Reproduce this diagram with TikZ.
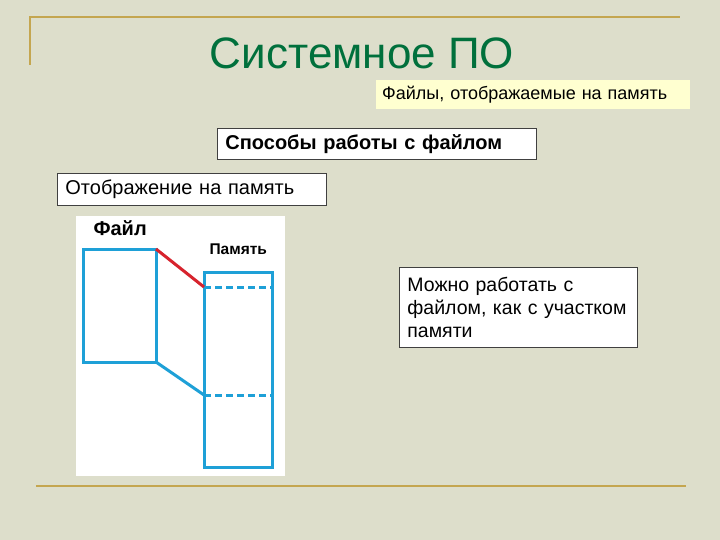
\documentclass[tikz,border=0pt]{standalone}
\usepackage{fontspec}
\setmainfont{Liberation Sans}
\usepackage{tikz}
\usetikzlibrary{positioning}
\definecolor{slidebg}{RGB}{221,222,203}
\definecolor{goldline}{RGB}{196,166,80}
\definecolor{titlegreen}{RGB}{0,112,60}
\definecolor{noteyellow}{RGB}{255,255,208}
\definecolor{memblue}{RGB}{30,160,215}
\definecolor{linkred}{RGB}{215,35,45}

\tikzset{
  textbox/.style={draw=black!75, fill=white, line width=0.8pt, anchor=north west,
    inner xsep=8pt, inner ysep=3pt, align=left, font=\fontsize{20}{23}\selectfont},
  blueline/.style={memblue, line width=3pt},
  goldrule/.style={goldline, line width=2pt}
}

\begin{document}
\begin{tikzpicture}[x=1pt,y=-1pt]
\fill [slidebg] (0,0) rectangle (720,540);
\useasboundingbox (0,0) rectangle (720,540);
% frame lines
\draw [goldrule] (30,65) -- (30,17) -- (680,17);
\draw [goldrule] (36,486) -- (686,486);
% title
\node [text=titlegreen, font=\fontsize{44}{48}\selectfont] (title) at (362,53) {Системное ПО};
% notes
\node [fill=noteyellow, anchor=north west, minimum width=314pt, minimum height=29pt,
  text width=302pt, inner xsep=6pt, align=left, font=\fontsize{18}{21}\selectfont] (mapped) at (376,80) {Файлы, отображаемые на память};
\node [textbox, minimum height=31pt, text width=303pt, font=\bfseries\fontsize{20}{23}\selectfont] (ways) at (217,128) {Способы работы с файлом};
\node [textbox, minimum height=32pt, text width=253pt] (mapping) at (57,173) {Отображение на память};
\node [textbox, minimum height=80pt, text width=222pt, inner ysep=6pt,
  font=\fontsize{19.5}{23}\selectfont] (memnote) at (399,267) {Можно работать с\\файлом, как с участком\\памяти};
% picture: file and memory
\fill [white] (76,216) rectangle (285,476);
\node [font=\bfseries\fontsize{20}{23}\selectfont, anchor=west] (filelabel) at (90,228) {Файл};
\node [font=\bfseries\fontsize{15.5}{18}\selectfont, anchor=west] (memlabel) at (206,249) {Память};
\draw [blueline] (83,249) rectangle (156,362);
\draw [blueline] (204,272) rectangle (272,467);
\coordinate (fileTR) at (156,249);
\coordinate (fileBR) at (156,362);
\coordinate (memA) at (204,287);
\coordinate (memB) at (204,395);
\draw [blueline, dash pattern=on 7pt off 4pt] (memA) -- (274,287);
\draw [blueline, dash pattern=on 7pt off 4pt] (memB) -- (274,395);
\draw [linkred, line width=3pt] (fileTR) -- (memA);
\draw [blueline] (fileBR) -- (memB);
\end{tikzpicture}
\end{document}
